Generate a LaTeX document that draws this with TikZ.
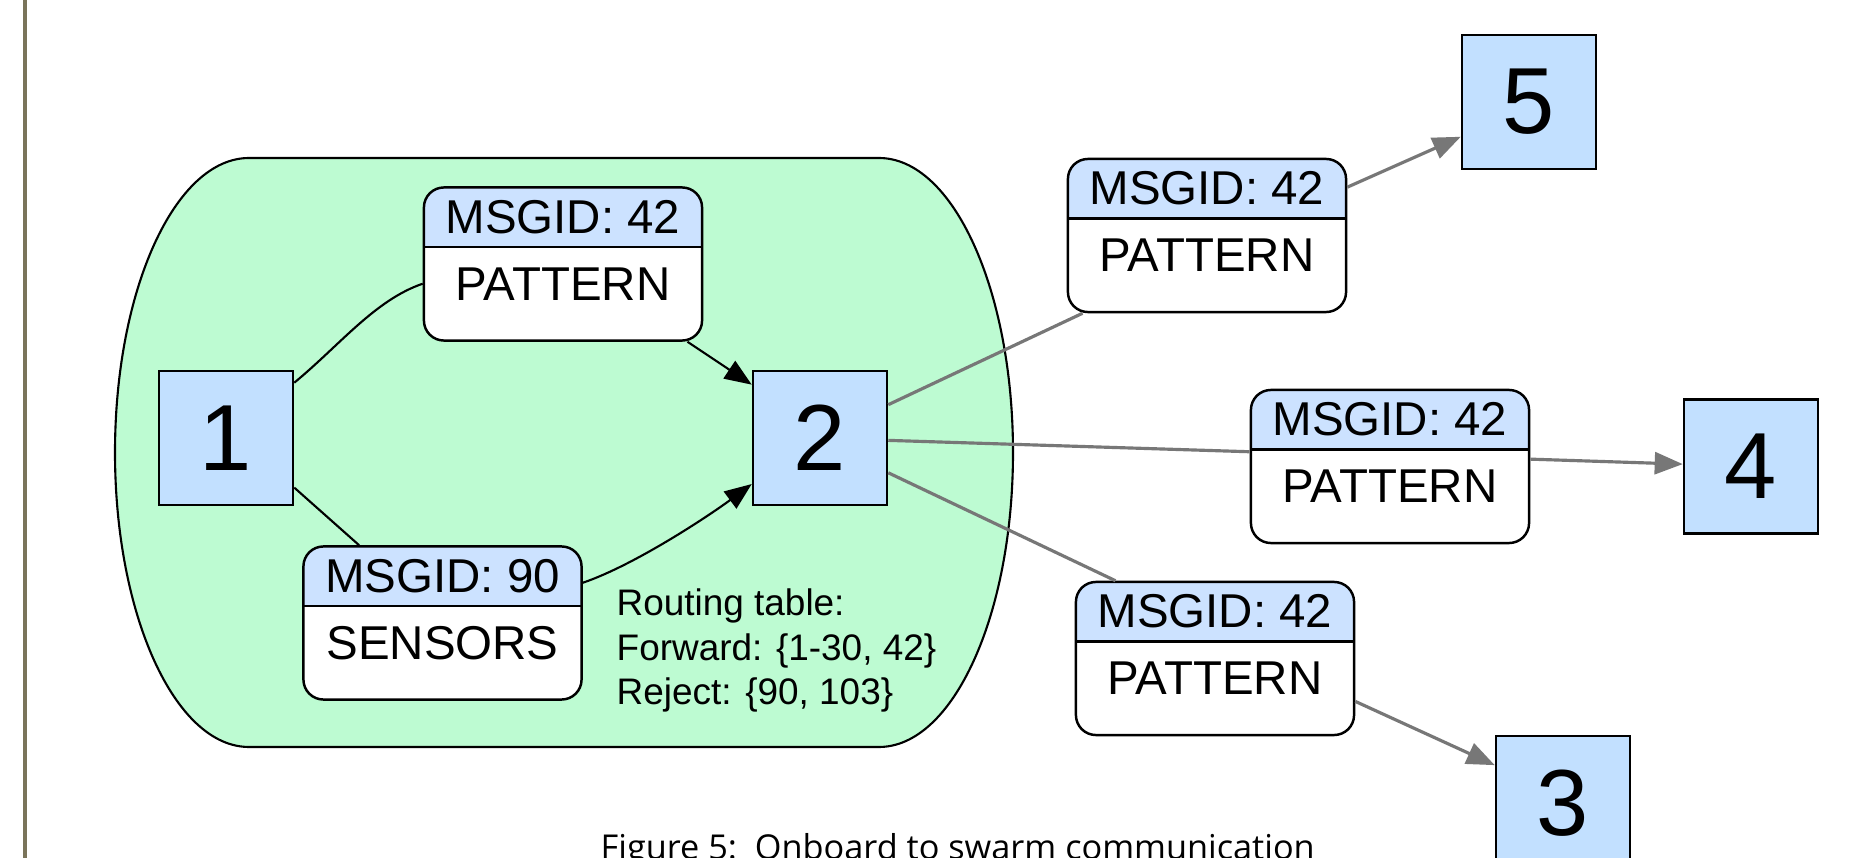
\documentclass[tikz,border=0pt]{standalone}
\usepackage{fontspec}
\setmainfont{Liberation Sans}
\newfontfamily\capfont{Open Sans}
\usetikzlibrary{arrows.meta}

\definecolor{swarmgreen}{RGB}{189,251,210}
\definecolor{nodeblue}{RGB}{194,224,255}
\definecolor{hdrblue}{RGB}{204,226,255}
\definecolor{linkgray}{RGB}{119,119,119}
\definecolor{rulecol}{RGB}{122,116,90}

\tikzset{
  robot/.style={draw=black, fill=nodeblue, line width=0.7pt, minimum size=1.34cm,
    inner sep=0pt, font=\fontsize{26.7pt}{30pt}\selectfont},
  msgtext/.style={inner sep=0pt, font=\fontsize{13.5pt}{16pt}\selectfont},
  msgbox/.style 2 args={draw=black, fill=white, line width=0.7pt, rounded corners=0.2cm,
    minimum width=2.78cm, minimum height=1.53cm, inner sep=0pt,
    path picture={
      \coordinate (hdrline) at ([yshift=-0.595cm]path picture bounding box.north);
      \fill[hdrblue, sharp corners] (path picture bounding box.north west)
        rectangle (path picture bounding box.east |- hdrline);
      \draw[black, line width=0.7pt, sharp corners] (path picture bounding box.west |- hdrline)
        -- (path picture bounding box.east |- hdrline);
      \node[msgtext] at ([yshift=-0.295cm]path picture bounding box.north) {#1};
      \node[msgtext] at ([yshift=-0.965cm]path picture bounding box.north) {#2};
    }},
  localarrow/.style={draw=black, line width=0.6pt,
    -{Triangle[length=0.27cm, width=0.21cm]}},
  localline/.style={draw=black, line width=0.6pt},
  swarmarrow/.style={draw=linkgray, line width=0.9pt,
    -{Triangle[length=0.28cm, width=0.22cm]}},
  swarmline/.style={draw=linkgray, line width=0.9pt},
}

\begin{document}
\begin{tikzpicture}[x=0.01cm, y=-0.01cm]
  \useasboundingbox (0,0) rectangle (1853,858);
  \fill[white] (0,0) rectangle (1853,858);
  \clip (0,0) rectangle (1853,858);

  % page margin rule
  \draw[rulecol, line width=1pt] (25,0) -- (25,858);

  % onboard region
  \draw[fill=swarmgreen, line width=0.6pt]
    (249,158) -- (879,158)
    .. controls (953,158) and (1013,290) .. (1013,452.5)
    .. controls (1013,615) and (953,747) .. (879,747)
    -- (249,747)
    .. controls (175,747) and (115,615) .. (115,452.5)
    .. controls (115,290) and (175,158) .. (249,158) -- cycle;

  % robots
  \node[robot] (n1) at (226,438) {1};
  \node[robot] (n2) at (820,438) {2};
  \node[robot] (n5) at (1529,102) {5};
  \node[robot] (n4) at (1751,466.5) {4};
  \node[robot] (n3) at (1563,803) {3};

  % messages
  \node[msgbox={MSGID: 42}{PATTERN}] (m1) at (563,264) {};
  \node[msgbox={MSGID: 90}{SENSORS}] (m2) at (442.5,623) {};
  \node[msgbox={MSGID: 42}{PATTERN}] (m3) at (1207,235.5) {};
  \node[msgbox={MSGID: 42}{PATTERN}] (m4) at (1390,466.5) {};
  \node[msgbox={MSGID: 42}{PATTERN}] (m5) at (1215,658.5) {};

  % routing table (base anchor sits on the last line)
  \node[anchor=base west, inner sep=0pt, align=left,
        font=\fontsize{10.5pt}{12.66pt}\selectfont] (rt) at (616,705)
    {Routing table:\\Forward: \{1-30, 42\}\\Reject: \{90, 103\}};

  % onboard links
  \draw[localline] (n1.39) .. controls (340,345) and (375,300) .. (m1.188);
  \draw[localarrow] (m1.-32) -- (n2.142);
  \draw[localline] (n1.-36) -- (m2.137);
  \draw[localarrow] (m2.16) .. controls (635,565) and (710,515) .. (n2.214);

  % swarm links
  \draw[swarmline] (n2.26) -- (m3.212);
  \draw[swarmarrow] (m3.19) -- (n5.207);
  \draw[swarmline] (n2.-2) -- (m4.174);
  \draw[swarmarrow] (m4.3) -- (n4.178);
  \draw[swarmline] (n2.-27) -- (m5.142.5);
  \draw[swarmarrow] (m5.-17) -- (n3.151.5);

  % caption
  \node[anchor=base west, inner sep=0pt, font=\capfont\fontsize{9.75pt}{11pt}\selectfont]
    (cap) at (600,860) {Figure 5:~~Onboard to swarm communication};
\end{tikzpicture}
\end{document}
